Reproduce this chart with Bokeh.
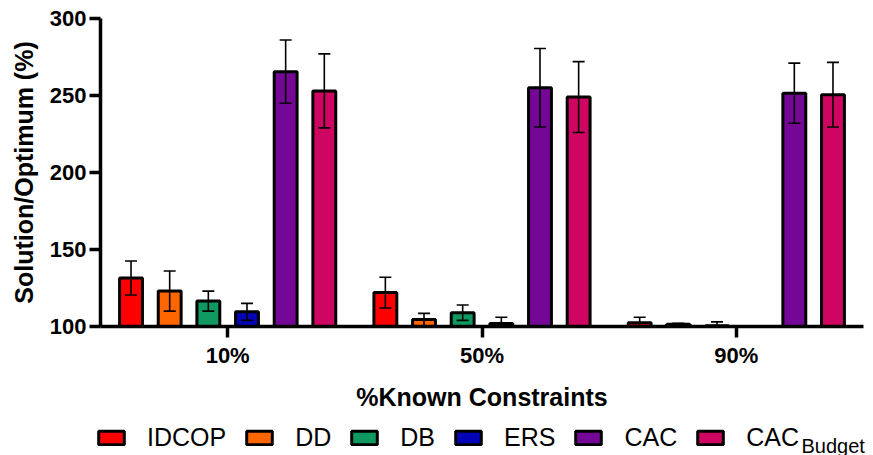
from bokeh.plotting import figure
from bokeh.layouts import column, row
from bokeh.models import (ColumnDataSource, FactorRange, Range1d, FixedTicker, Whisker, TeeHead,
                          Legend, LegendItem, Label)
from bokeh.transform import dodge
from bokeh.embed import file_html
from bokeh.resources import INLINE

# ---- data ----
categories = ["10%", "50%", "90%"]
series_names = ["IDCOP", "DD", "DB", "ERS", "CAC", "CAC_Budget"]
idcop = [131.5, 122.0, 102.5]
idcop_err = [11.0, 10.0, 3.5]
dd = [123.0, 104.5, 101.5]
dd_err = [13.0, 4.0, 0.5]
db = [116.5, 109.0, 100.5]
db_err = [6.5, 5.0, 2.5]
ers = [109.5, 102.0, 100.0]
ers_err = [5.5, 4.0, 0.0]
cac = [265.5, 255.0, 251.5]
cac_err = [20.5, 25.5, 19.5]
cac_budget = [253.0, 249.0, 250.5]
cac_budget_err = [24.0, 23.0, 21.0]
y_ticks = [100, 150, 200, 250, 300]

values = [idcop, dd, db, ers, cac, cac_budget]
errors = [idcop_err, dd_err, db_err, ers_err, cac_err, cac_budget_err]
colors = ["#FF0000", "#FF6600", "#0F9960", "#0303B8", "#750796", "#CE0662"]
offsets = [-0.38, -0.228, -0.076, 0.076, 0.228, 0.38]
base = 100

data = {"cat": categories}
for i, (v, e) in enumerate(zip(values, errors)):
    data[f"v{i}"] = v
    data[f"u{i}"] = [a + b for a, b in zip(v, e)]
    data[f"l{i}"] = [max(base, a - b) for a, b in zip(v, e)]
src = ColumnDataSource(data)

FONT = "Liberation Sans"

p = figure(frame_width=763, frame_height=308,
           x_range=FactorRange(factors=categories, range_padding=0),
           y_range=Range1d(100, 300), output_backend="svg", toolbar_location=None,
           min_border_left=100, min_border_right=10, min_border_top=18, min_border_bottom=80)
p.outline_line_color = None
p.xgrid.visible = False
p.ygrid.visible = False

for i in range(6):
    p.vbar(x=dodge("cat", offsets[i], range=p.x_range), top=f"v{i}", bottom=base,
           width=0.09, source=src, fill_color=colors[i], line_color="black", line_width=3)
    w = Whisker(base=dodge("cat", offsets[i], range=p.x_range), upper=f"u{i}", lower=f"l{i}",
                source=src, dimension="height", line_width=1.6, line_color="black",
                upper_head=TeeHead(size=12, line_width=1.6, line_color="black"),
                lower_head=TeeHead(size=12, line_width=1.6, line_color="black"),
                level="overlay")
    p.add_layout(w)

# axes
for ax in (p.xaxis[0], p.yaxis[0]):
    ax.axis_line_width = 3.5
    ax.major_tick_line_width = 3.5
    ax.major_tick_out = 11
    ax.major_tick_in = 0
    ax.minor_tick_line_color = None
    ax.major_label_text_font = FONT
    ax.major_label_text_font_style = "bold"
    ax.major_label_text_font_size = "22px"
    ax.major_label_text_color = "black"
    ax.axis_label_text_font = FONT
    ax.axis_label_text_font_style = "bold"
    ax.axis_label_text_font_size = "25px"
    ax.axis_label_text_color = "black"

p.yaxis.ticker = FixedTicker(ticks=y_ticks)
p.yaxis.axis_label = "Solution/Optimum (%)"
p.yaxis.major_label_standoff = 3
p.yaxis.axis_label_standoff = 9
p.xaxis.axis_label = "%Known Constraints"
p.xaxis.major_label_standoff = 5
p.xaxis.axis_label_standoff = 12

# ---- legend strip below the chart ----
p2 = figure(width=873, height=44, x_range=Range1d(0, 873), y_range=Range1d(0, 44),
            output_backend="svg", toolbar_location=None, min_border=0)
p2.axis.visible = False
p2.grid.visible = False
p2.outline_line_color = None

# placeholder glyphs (outside the visible range) that only supply legend swatches
leg_renderers = []
for i in range(6):
    r = p2.vbar(x=[-500], top=[-500], bottom=[-510], width=1,
                fill_color=colors[i], line_color="black", line_width=3)
    leg_renderers.append(r)

labels = ["IDCOP", "DD", "DB", "ERS", "CAC", "CAC\u2003\u2003\u2002"]
legend = Legend(items=[LegendItem(label=labels[i], renderers=[leg_renderers[i]]) for i in range(6)],
                orientation="horizontal", location=(95, 5),
                glyph_width=32, glyph_height=17, label_standoff=20, spacing=17,
                padding=0, margin=0, border_line_color=None, background_fill_alpha=0,
                label_text_font=FONT, label_text_font_size="25px", label_text_color="black")
p2.add_layout(legend)

sub = Label(x=801, y=12, text="Budget", text_font=FONT, text_font_size="20px",
            text_color="black", text_baseline="alphabetic")
p2.add_layout(sub)

layout = column(p, row(p2), spacing=0)
open("out.html", "w").write(file_html(layout, INLINE))
